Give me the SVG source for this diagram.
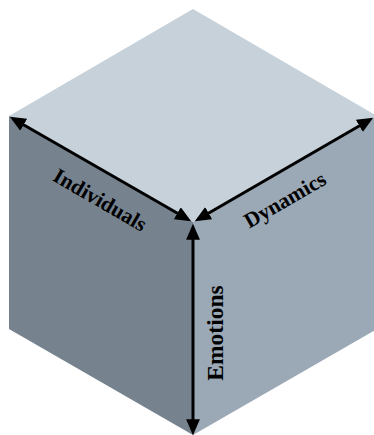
<svg xmlns="http://www.w3.org/2000/svg" width="374" height="435" viewBox="0 0 374 435">
<defs>
<style>
.lbl{font-family:"Liberation Serif","Times New Roman",serif;font-weight:bold;fill:#000;text-anchor:middle;dominant-baseline:central}
.ax{stroke:#000;stroke-width:3;fill:none;marker-start:url(#ah);marker-end:url(#ah)}
</style>
<marker id="ah" markerUnits="userSpaceOnUse" markerWidth="16" markerHeight="14" refX="11" refY="6.5" orient="auto-start-reverse" viewBox="0 0 15 13">
<path d="M0,0 L15,6.5 L0,13 Z" fill="#000"/>
</marker>
</defs>
<g id="cube">
<polygon id="top-face" points="193,9 377,116 193,222 9,116" fill="#C6D1DA"/>
<polygon id="left-face" points="9,116 193,222 193,435 9,329" fill="#76838F"/>
<polygon id="right-face" points="193,222 377,116 377,329 193,435" fill="#9BA8B5"/>
</g>
<g id="connectors">
<line class="ax" x1="13.5" y1="119" x2="187.5" y2="219"/>
<line class="ax" x1="198.5" y1="219" x2="369.5" y2="120"/>
<line class="ax" x1="193" y1="228" x2="193" y2="431"/>
</g>
<g id="label-individuals"><text class="lbl" font-size="21.5" transform="translate(100,200) rotate(30)">Individuals</text></g>
<g id="label-dynamics"><text class="lbl" font-size="21.5" transform="translate(285,200) rotate(-30)">Dynamics</text></g>
<g id="label-emotions"><text class="lbl" font-size="23.5" transform="translate(215,333) rotate(-90)">Emotions</text></g>
</svg>
